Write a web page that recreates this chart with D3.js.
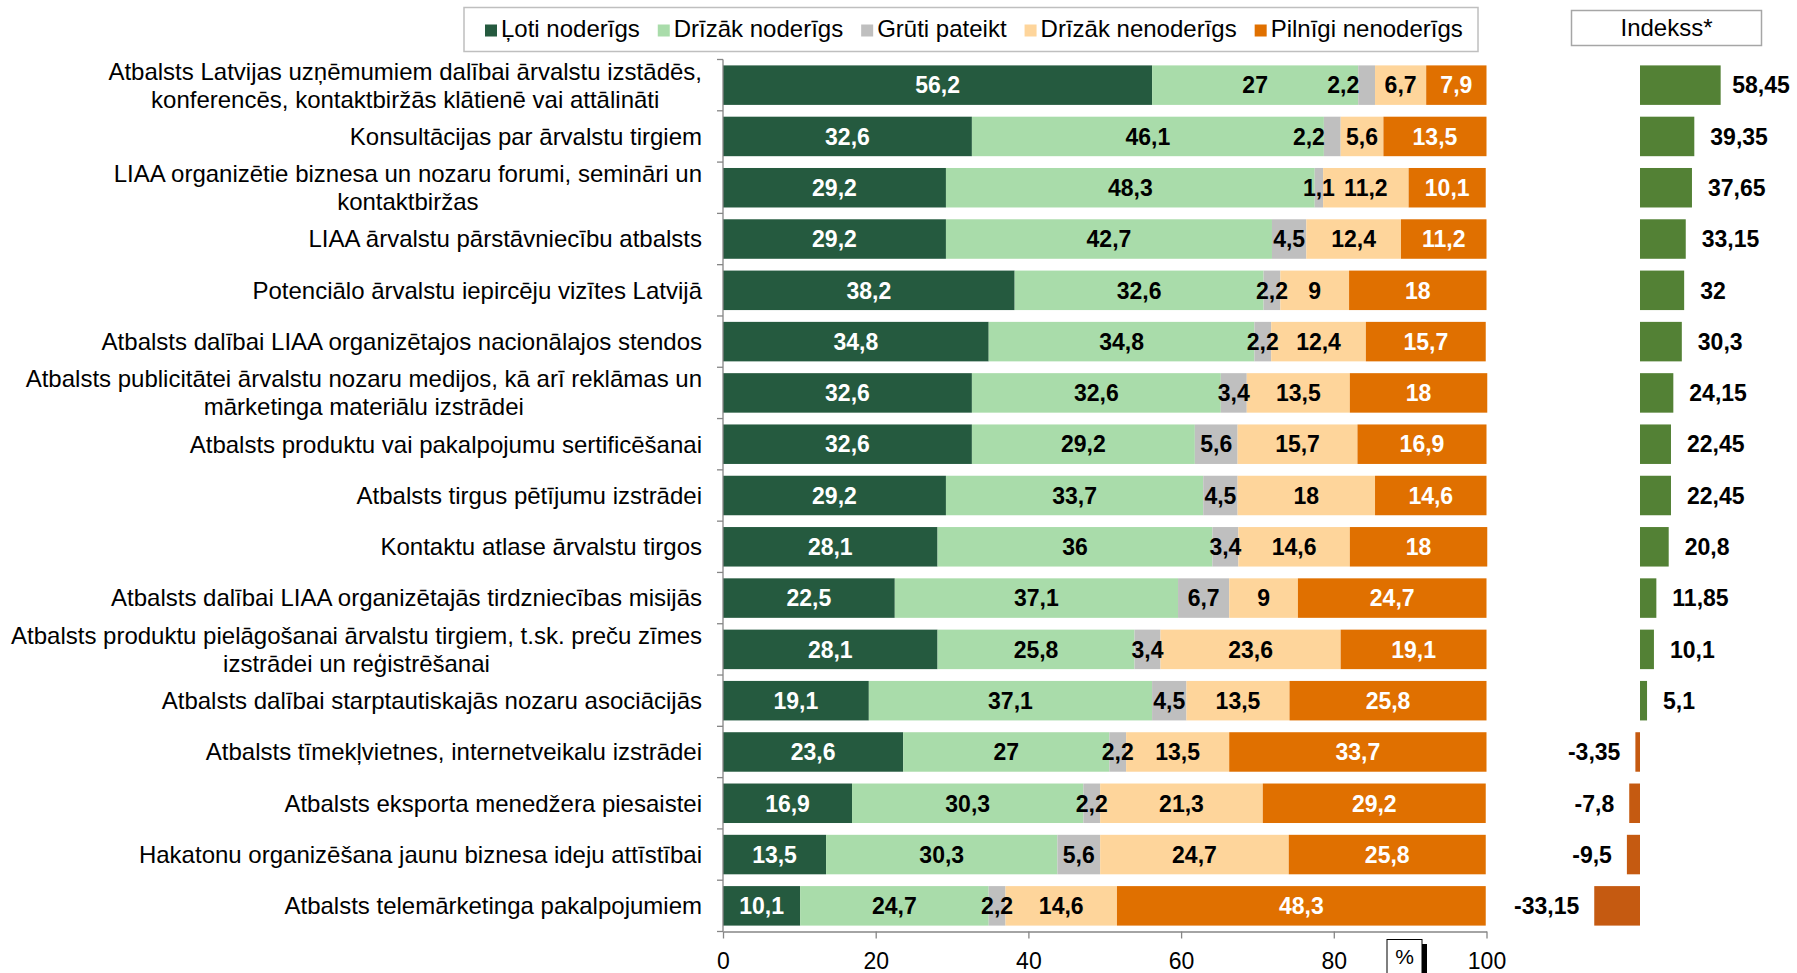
<!DOCTYPE html>
<html>
<head>
<meta charset="utf-8">
<script src="https://cdn.jsdelivr.net/npm/d3@7"></script>
<style>
  body { margin: 0; background: #fff; }
  text { font-family: "Liberation Sans", Arial, sans-serif; }
</style>
</head>
<body>
<script>
"use strict";

// Categories (top to bottom), "\n" marks a line break in the label
var categories = [
  "Atbalsts Latvijas uzņēmumiem dalībai ārvalstu izstādēs,\nkonferencēs, kontaktbiržās klātienē vai attālināti",
  "Konsultācijas par ārvalstu tirgiem",
  "LIAA organizētie biznesa un nozaru forumi, semināri un\nkontaktbiržas",
  "LIAA ārvalstu pārstāvniecību atbalsts",
  "Potenciālo ārvalstu iepircēju vizītes Latvijā",
  "Atbalsts dalībai LIAA organizētajos nacionālajos stendos",
  "Atbalsts publicitātei ārvalstu nozaru medijos, kā arī reklāmas un\nmārketinga materiālu izstrādei",
  "Atbalsts produktu vai pakalpojumu sertificēšanai",
  "Atbalsts tirgus pētījumu izstrādei",
  "Kontaktu atlase ārvalstu tirgos",
  "Atbalsts dalībai LIAA organizētajās tirdzniecības misijās",
  "Atbalsts produktu pielāgošanai ārvalstu tirgiem, t.sk. preču zīmes\nizstrādei un reģistrēšanai",
  "Atbalsts dalībai starptautiskajās nozaru asociācijās",
  "Atbalsts tīmekļvietnes, internetveikalu izstrādei",
  "Atbalsts eksporta menedžera piesaistei",
  "Hakatonu organizēšana jaunu biznesa ideju attīstībai",
  "Atbalsts telemārketinga pakalpojumiem"
];

var seriesNames = ["Ļoti noderīgs", "Drīzāk noderīgs", "Grūti pateikt", "Drīzāk nenoderīgs", "Pilnīgi nenoderīgs"];

var lotiNoderigs      = [56.2, 32.6, 29.2, 29.2, 38.2, 34.8, 32.6, 32.6, 29.2, 28.1, 22.5, 28.1, 19.1, 23.6, 16.9, 13.5, 10.1];
var drizakNoderigs    = [27, 46.1, 48.3, 42.7, 32.6, 34.8, 32.6, 29.2, 33.7, 36, 37.1, 25.8, 37.1, 27, 30.3, 30.3, 24.7];
var grutiPateikt      = [2.2, 2.2, 1.1, 4.5, 2.2, 2.2, 3.4, 5.6, 4.5, 3.4, 6.7, 3.4, 4.5, 2.2, 2.2, 5.6, 2.2];
var drizakNenoderigs  = [6.7, 5.6, 11.2, 12.4, 9, 12.4, 13.5, 15.7, 18, 14.6, 9, 23.6, 13.5, 13.5, 21.3, 24.7, 14.6];
var pilnigiNenoderigs = [7.9, 13.5, 10.1, 11.2, 18, 15.7, 18, 16.9, 14.6, 18, 24.7, 19.1, 25.8, 33.7, 29.2, 25.8, 48.3];

var indekss = [58.45, 39.35, 37.65, 33.15, 32, 30.3, 24.15, 22.45, 22.45, 20.8, 11.85, 10.1, 5.1, -3.35, -7.8, -9.5, -33.15];

var xTicks = [0, 20, 40, 60, 80, 100];

var colors = ["#255a3f", "#a9dcaa", "#bfbfbf", "#fed59b", "#e07000"];
var labelColors = ["#fff", "#000", "#000", "#000", "#fff"];
var posColor = "#538135", negColor = "#c55a11";

// build table for the stack
var table = categories.map(function(c, i) {
  return {
    cat: c,
    s0: lotiNoderigs[i], s1: drizakNoderigs[i], s2: grutiPateikt[i],
    s3: drizakNenoderigs[i], s4: pilnigiNenoderigs[i]
  };
});
var keys = ["s0", "s1", "s2", "s3", "s4"];
var stacked = d3.stack().keys(keys)(table);

var width = 1797, height = 973;
var svg = d3.select("body").append("svg")
    .attr("width", width)
    .attr("height", height);

var x = d3.scaleLinear().domain([0, 100]).range([723, 1486.5]);
var y = d3.scaleBand().domain(categories).range([59.5, 931.5])
    .paddingInner(0.23).paddingOuter(0.115);
var xi = d3.scaleLinear().domain([-40, 60]).range([1584.8, 1722.8]);

var axisColor = "#868686";

// stacked bars
var groups = svg.append("g").selectAll("g")
  .data(stacked).enter().append("g")
    .attr("fill", function(d, i) { return colors[i]; });

groups.selectAll("rect")
  .data(function(d) { return d; })
  .enter().append("rect")
    .attr("x", function(d) { return x(d[0]); })
    .attr("y", function(d) { return y(d.data.cat); })
    .attr("width", function(d) { return x(d[1]) - x(d[0]); })
    .attr("height", y.bandwidth());

// value labels inside the bars
var labelRows = categories.map(function() { return []; });
stacked.forEach(function(s, si) {
  s.forEach(function(d, ri) {
    var t = svg.append("text")
      .attr("x", (x(d[0]) + x(d[1])) / 2)
      .attr("y", y(d.data.cat) + y.bandwidth() / 2)
      .attr("dy", "0.36em")
      .attr("text-anchor", "middle")
      .style("font-size", "23px")
      .style("font-weight", "bold")
      .attr("fill", labelColors[si])
      .text(String(d.data[keys[si]]).replace(".", ","));
    labelRows[ri].push({ node: t, x0: x(d[0]) });
  });
});
// move a label out of the way when it runs into its neighbour
labelRows.forEach(function(row) {
  for (var i = 0; i < row.length - 1; i++) {
    var a = row[i].node.node().getBBox();
    var b = row[i + 1].node.node().getBBox();
    if (b.x - (a.x + a.width) < 5) {
      row[i].node.attr("text-anchor", "end").attr("x", row[i].x0 + 1);
    }
  }
});

// y axis
svg.append("line")
  .attr("x1", x(0)).attr("x2", x(0))
  .attr("y1", y.range()[0]).attr("y2", y.range()[1])
  .attr("stroke", axisColor).attr("stroke-width", 1.3);
d3.range(categories.length + 1).forEach(function(i) {
  var yy = y.range()[0] + i * y.step();
  svg.append("line")
    .attr("x1", x(0) - 6).attr("x2", x(0))
    .attr("y1", yy).attr("y2", yy)
    .attr("stroke", axisColor).attr("stroke-width", 1.3);
});

// x axis
var xAxis = svg.append("g")
  .attr("transform", "translate(0," + y.range()[1] + ")")
  .call(d3.axisBottom(x).tickValues(xTicks).tickSize(7).tickPadding(14).tickSizeOuter(0));
xAxis.select(".domain").attr("stroke", axisColor).attr("stroke-width", 1.3);
xAxis.selectAll(".tick line").attr("stroke", axisColor).attr("stroke-width", 1.3);
xAxis.selectAll(".tick text")
  .style("font-size", "23px")
  .style("font-family", "'Liberation Sans', Arial, sans-serif")
  .attr("fill", "#000");

// category labels, right aligned, lines centered on each other
categories.forEach(function(c) {
  var lines = c.split("\n");
  var g = svg.append("g");
  var cy = y(c) + y.bandwidth() / 2;
  var texts = lines.map(function(l, li) {
    return g.append("text")
      .attr("y", cy + (li - (lines.length - 1) / 2) * 28)
      .attr("dy", "0.35em")
      .attr("text-anchor", "middle")
      .style("font-size", "24px")
      .attr("fill", "#000")
      .text(l);
  });
  var w = d3.max(texts, function(t) { return t.node().getComputedTextLength(); });
  texts.forEach(function(t) { t.attr("x", 702 - w / 2); });
});

// index bars
categories.forEach(function(c, i) {
  var v = indekss[i];
  var yy = y(c);
  svg.append("rect")
    .attr("x", Math.min(xi(0), xi(v)))
    .attr("y", yy)
    .attr("width", Math.abs(xi(v) - xi(0)))
    .attr("height", y.bandwidth())
    .attr("fill", v >= 0 ? posColor : negColor);
  var t = svg.append("text")
    .attr("x", v >= 0 ? xi(v) + 16 : xi(v) - 15)
    .attr("y", yy + y.bandwidth() / 2)
    .attr("dy", "0.36em")
    .attr("text-anchor", v >= 0 ? "start" : "end")
    .style("font-size", "23px")
    .style("font-weight", "bold")
    .attr("fill", "#000")
    .text(String(v).replace(".", ","));
  // keep the label inside the picture
  var bb = t.node().getBBox();
  if (bb.x + bb.width > width - 7) t.attr("x", width - 7 - bb.width);
});

// legend
svg.append("rect")
  .attr("x", 464).attr("y", 7.5).attr("width", 1014).attr("height", 44)
  .attr("fill", "#fff").attr("stroke", "#bfbfbf").attr("stroke-width", 1.5);
var lx = 485;
seriesNames.forEach(function(n, i) {
  svg.append("rect")
    .attr("x", lx).attr("y", 24.5).attr("width", 12).attr("height", 12)
    .attr("fill", colors[i]);
  var t = svg.append("text")
    .attr("x", lx + 16).attr("y", 28.5)
    .attr("dy", "0.35em")
    .style("font-size", "24px")
    .attr("fill", "#000")
    .text(n);
  lx += 16 + t.node().getComputedTextLength() + 18;
});

// Indekss header box
svg.append("rect")
  .attr("x", 1571.5).attr("y", 10.5).attr("width", 190).attr("height", 35)
  .attr("fill", "#fff").attr("stroke", "#a6a6a6").attr("stroke-width", 1.5);
svg.append("text")
  .attr("x", 1666.5).attr("y", 28).attr("dy", "0.35em")
  .attr("text-anchor", "middle")
  .style("font-size", "24px")
  .attr("fill", "#000")
  .text("Indekss*");

// "%" unit box with shadow
svg.append("rect")
  .attr("x", 1392).attr("y", 944).attr("width", 35).attr("height", 36)
  .attr("fill", "#000");
svg.append("rect")
  .attr("x", 1387).attr("y", 939.5).attr("width", 35).attr("height", 36)
  .attr("fill", "#fff").attr("stroke", "#000").attr("stroke-width", 1);
svg.append("text")
  .attr("x", 1404.5).attr("y", 957).attr("dy", "0.35em")
  .attr("text-anchor", "middle")
  .style("font-size", "21px")
  .attr("fill", "#000")
  .text("%");
</script>
</body>
</html>
